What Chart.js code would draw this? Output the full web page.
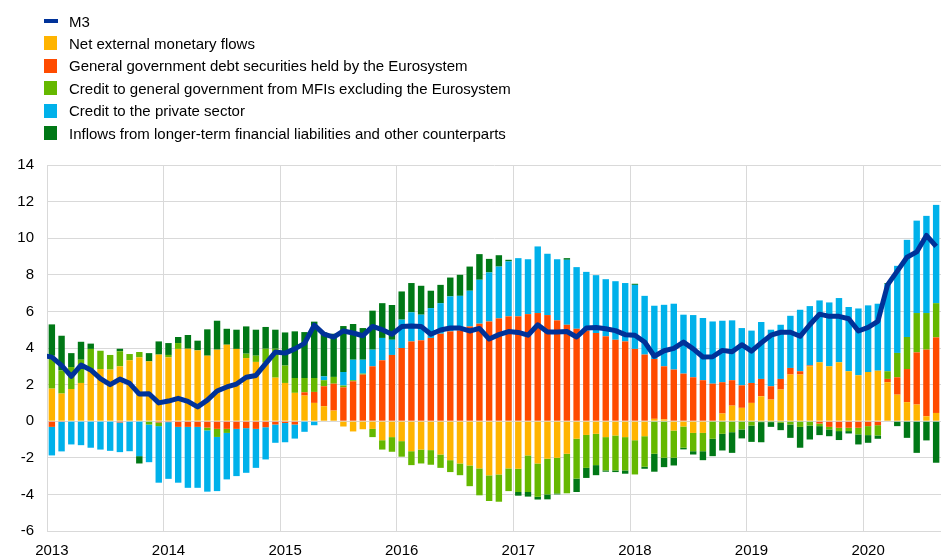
<!DOCTYPE html>
<html>
<head>
<meta charset="utf-8">
<script src="https://cdn.jsdelivr.net/npm/chart.js@4.4.0/dist/chart.umd.min.js"></script>
<style>
  body { margin: 0; background: #fff; }
  #wrap { position: relative; width: 941px; height: 558px; }
  #legend { position: absolute; left: 0; top: 0; font: 15px "Liberation Sans", Arial, sans-serif; color: #000; }
  .item { position: absolute; left: 44px; height: 22px; display: flex; align-items: center; white-space: nowrap; }
  .swatch { width: 13px; height: 14px; margin-right: 12px; }
  .swatch.line { width: 14px; height: 4px; margin-right: 11px; }
</style>
</head>
<body>
<div id="wrap">
  <canvas id="m3Chart" width="941" height="558"></canvas>
  <div id="legend"></div>
</div>
<script>
var years = ['2013', '2014', '2015', '2016', '2017', '2018', '2019', '2020'];
var monthNames = ['Jan', 'Feb', 'Mar', 'Apr', 'May', 'Jun', 'Jul', 'Aug', 'Sep', 'Oct', 'Nov', 'Dec'];

// Dec 2012 and Sep 2020 only carry the M3 line, which runs off both edges of the plot
var months = ['Dec 2012'];
years.forEach(function (y) {
  monthNames.forEach(function (m) { months.push(m + ' ' + y); });
});
months = months.slice(0, 94);

// bar series, Jan 2013 - Aug 2020 (annual percentage changes, contributions)
var netExternal = [
  1.78, 1.51, 1.76, 2.09, 2.85, 2.85, 2.82, 3.00, 3.33, 3.49, 3.27, 3.64,
  3.49, 3.95, 3.96, 3.87, 3.58, 3.91, 4.18, 3.95, 3.45, 3.24, 3.20, 2.38,
  2.09, 1.55, 1.40, 1.00, 0.82, 0.58, -0.29, -0.56, -0.44, -0.42, -1.04, -0.87,
  -1.09, -1.64, -1.55, -1.58, -1.82, -2.13, -2.31, -2.42, -2.58, -2.96, -2.91, -2.58,
  -2.60, -1.87, -2.31, -2.05, -2.00, -1.78, -0.96, -0.75, -0.69, -0.87, -0.78, -0.87,
  -1.04, -0.82, 0.13, 0.10, -0.51, -0.29, -0.64, -0.64, 0.00, 0.42, 0.85, 0.73,
  1.00, 1.36, 1.18, 1.73, 2.55, 2.55, 3.00, 3.22, 3.00, 3.22, 2.73, 2.51,
  2.69, 2.76, 2.13, 1.45, 1.04, 0.91, 0.27, 0.45
];
var govDebtEurosystem = [
  -0.31, -0.04, 0, 0, 0, 0, 0, -0.07, -0.03, 0, 0, -0.07,
  -0.05, -0.31, -0.31, -0.31, -0.35, -0.42, -0.42, -0.42, -0.38, -0.42, -0.33, -0.18,
  -0.10, -0.18, 0.18, 0.60, 1.09, 1.47, 1.85, 2.18, 2.55, 3.00, 3.33, 3.62,
  4.00, 4.36, 4.42, 4.55, 4.78, 4.91, 4.96, 5.18, 5.33, 5.45, 5.62, 5.73,
  5.73, 5.85, 5.91, 5.80, 5.51, 5.27, 5.05, 4.95, 4.82, 4.64, 4.45, 4.36,
  3.95, 3.64, 3.27, 2.90, 2.82, 2.60, 2.40, 2.24, 2.05, 1.71, 1.39, 1.23,
  1.09, 0.95, 0.73, 0.58, 0.36, 0.18, 0.05, -0.13, -0.31, -0.36, -0.36, -0.36,
  -0.27, -0.22, 0.18, 0.95, 1.81, 2.85, 3.64, 4.13
];
var creditGovMfi = [
  1.80, 1.27, 1.20, 1.27, 1.10, 1.00, 0.80, 0.82, 0.34, 0.29, -0.18, -0.20,
  0.13, 0.32, 0, 0, -0.15, -0.44, -0.22, 0, 0.24, 0.34, 0.76, 1.58,
  0.95, 0.81, 0.78, 0.76, 0.33, 0.37, 0.10, 0.06, 0.05, -0.45, -0.51, -0.80,
  -0.85, -0.76, -0.76, -0.80, -0.73, -0.65, -0.64, -1.13, -1.47, -1.40, -1.49, -1.24,
  -1.27, -2.00, -1.82, -1.95, -1.95, -2.16, -2.18, -1.80, -1.71, -1.82, -1.91, -1.82,
  -1.87, -1.67, -1.78, -2.00, -1.49, -1.16, -1.00, -1.00, -0.96, -0.69, -0.60, -0.45,
  -0.24, -0.05, -0.05, -0.09, -0.18, -0.31, -0.24, -0.14, -0.14, -0.18, -0.18, -0.36,
  -0.49, -0.56, 0.42, 1.33, 1.75, 2.15, 2.00, 1.87
];
var creditPrivate = [
  -1.56, -1.61, -1.27, -1.31, -1.45, -1.55, -1.62, -1.62, -1.61, -1.91, -2.06, -3.09,
  -3.10, -3.05, -3.33, -3.33, -3.35, -2.96, -2.54, -2.58, -2.44, -2.13, -1.76, -1.00,
  -1.05, -0.77, -0.58, -0.22, 0.21, 0, 0.74, 1.12, 0.76, 0.91, 1.22, 0.83,
  1.55, 1.59, 1.40, 1.63, 1.67, 1.91, 1.89, 1.95, 2.40, 2.68, 2.83, 3.00,
  3.18, 3.00, 3.64, 3.35, 3.34, 3.55, 3.37, 3.21, 3.16, 3.12, 3.20, 3.19,
  3.50, 3.21, 2.91, 3.36, 3.60, 3.22, 3.40, 3.40, 3.40, 3.36, 3.27, 3.13,
  2.86, 3.11, 3.09, 2.96, 2.85, 3.36, 3.24, 3.38, 3.49, 3.51, 3.51, 3.65,
  3.64, 3.66, 4.76, 4.76, 5.31, 5.05, 5.31, 5.37
];
var inflowsLongTerm = [
  1.71, 1.89, 0.76, 0.98, 0.29, 0, 0, 0.14, 0, -0.40, 0.45, 0.72,
  0.65, 0.33, 0.75, 0.53, 1.44, 1.58, 0.87, 1.05, 1.49, 1.42, 1.19, 1.04,
  1.81, 2.55, 2.51, 3.08, 2.40, 2.36, 2.51, 1.95, 1.73, 2.13, 1.90, 1.90,
  1.54, 1.60, 1.58, 0.95, 1.00, 1.03, 1.15, 1.32, 1.40, 0.74, 0.62, 0.09,
  -0.20, -0.25, -0.15, -0.27, -0.05, 0.09, -0.73, -0.55, -0.55, -0.07, -0.09, -0.18,
  0.06, -0.11, -0.98, -0.51, -0.42, -0.09, -0.18, -0.49, -0.95, -0.91, -1.13, -0.49,
  -0.89, -1.10, -0.26, -0.40, -0.73, -1.14, -0.76, -0.49, -0.37, -0.49, -0.13, -0.55,
  -0.42, -0.18, 0.05, -0.27, -0.91, -1.73, -1.05, -2.27
];

// M3, Dec 2012 - Sep 2020
var m3 = [
  3.60,
  3.50, 3.05, 2.45, 3.07, 2.80, 2.33, 2.00, 2.30, 2.07, 1.48, 1.50, 1.00,
  1.10, 1.25, 1.08, 0.78, 1.15, 1.65, 1.87, 2.03, 2.40, 2.50, 3.15, 3.78,
  3.72, 3.95, 4.25, 5.25, 4.76, 4.60, 4.93, 4.82, 4.67, 5.18, 5.00, 4.75,
  5.17, 5.20, 5.18, 4.75, 4.98, 5.09, 5.09, 4.93, 5.07, 4.49, 4.73, 4.90,
  4.85, 4.70, 5.27, 4.88, 4.88, 4.90, 4.60, 5.09, 5.12, 5.05, 4.95, 4.73,
  4.70, 4.33, 3.55, 3.85, 3.98, 4.32, 3.95, 3.51, 3.52, 3.87, 3.80, 4.18,
  3.83, 4.28, 4.70, 4.86, 4.86, 4.64, 5.27, 5.85, 5.73, 5.73, 5.60, 4.93,
  5.13, 5.45, 7.45, 8.20, 8.96, 9.25, 10.15, 9.55,
  10.40
];

var yTicks = [-6, -4, -2, 0, 2, 4, 6, 8, 10, 12, 14];

var series = [
  { label: 'M3', color: '#003299', line: true },
  { label: 'Net external monetary flows', color: '#FFB400', data: netExternal },
  { label: 'General government debt securities held by the Eurosystem', color: '#FF4B00', data: govDebtEurosystem },
  { label: 'Credit to general government from MFIs excluding the Eurosystem', color: '#65B800', data: creditGovMfi },
  { label: 'Credit to the private sector', color: '#00B1EA', data: creditPrivate },
  { label: 'Inflows from longer-term financial liabilities and other counterparts', color: '#007816', data: inflowsLongTerm }
];

// legend as plain html, one entry per row
var legend = document.getElementById('legend');
series.forEach(function (s, i) {
  var row = document.createElement('div');
  row.className = 'item';
  row.style.top = (10 + i * 22.4) + 'px';
  var sw = document.createElement('span');
  sw.className = s.line ? 'swatch line' : 'swatch';
  sw.style.background = s.color;
  row.appendChild(sw);
  row.appendChild(document.createTextNode(s.label));
  legend.appendChild(row);
});

var fontSpec = { family: '"Liberation Sans", Arial, sans-serif', size: 15 };
var gridGrey = '#d9d9d9';

var datasets = [{
  type: 'line',
  label: 'M3',
  data: m3,
  borderColor: '#003299',
  borderWidth: 5,
  pointRadius: 0,
  tension: 0,
  borderJoinStyle: 'round',
  stack: 'm3',
  order: 0
}];
series.slice(1).forEach(function (s) {
  datasets.push({
    type: 'bar',
    label: s.label,
    data: [null].concat(s.data),
    backgroundColor: s.color,
    borderWidth: 0,
    barPercentage: 0.66,
    categoryPercentage: 1,
    stack: 'counterparts',
    order: 1
  });
});

var chart = new Chart(document.getElementById('m3Chart').getContext('2d'), {
  type: 'bar',
  data: { labels: months, datasets: datasets },
  options: {
    responsive: false,
    animation: false,
    layout: { padding: { top: 165, left: 0, right: 0, bottom: 0 } },
    plugins: { legend: { display: false }, tooltip: { enabled: false } },
    scales: {
      x: {
        type: 'category',
        stacked: true,
        offset: true,
        min: 'Jan 2013',
        max: 'Aug 2020',
        grid: {
          offset: true,
          drawTicks: false,
          color: function (ctx) {
            if (!ctx.tick) return 'rgba(0,0,0,0)';
            return months[ctx.tick.value].indexOf('Jan') === 0 ? gridGrey : 'rgba(0,0,0,0)';
          }
        },
        border: { display: true, color: gridGrey },
        ticks: {
          autoSkip: false,
          maxRotation: 0,
          minRotation: 0,
          padding: 11,
          color: '#000',
          font: fontSpec,
          callback: function (value) {
            var lab = this.getLabelForValue(value);
            return lab.indexOf('Jan') === 0 ? lab.slice(4) : '';
          }
        },
        afterFit: function (scale) {
          scale.height = 27;
          scale.paddingRight = 0; // plot runs right to the edge of the page
        }
      },
      y: {
        stacked: true,
        min: yTicks[0],
        max: yTicks[yTicks.length - 1],
        grid: { color: gridGrey, drawTicks: false },
        border: { display: true, color: gridGrey },
        ticks: { stepSize: 2, padding: 13, color: '#000', font: fontSpec },
        afterFit: function (scale) { scale.width = 47; }
      }
    }
  }
});
</script>
</body>
</html>
